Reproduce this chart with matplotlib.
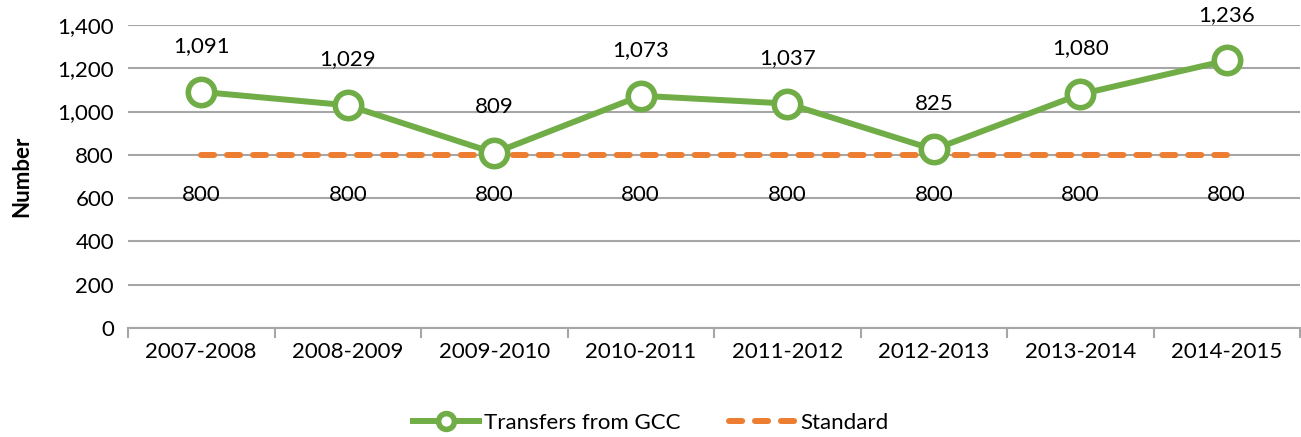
import matplotlib.pyplot as plt
import numpy as np

plt.rcParams['font.family'] = ['Lato', 'DejaVu Sans']

years = ['2007-2008', '2008-2009', '2009-2010', '2010-2011',
         '2011-2012', '2012-2013', '2013-2014', '2014-2015']
transfers = [1091, 1029, 809, 1073, 1037, 825, 1080, 1236]
standard = [800, 800, 800, 800, 800, 800, 800, 800]

green = '#70ad47'
orange = '#ed7d31'
grid_c = '#a6a6a6'
fs = 16

fig = plt.figure(figsize=(13.01, 4.37), dpi=100)
ax = fig.add_axes([128 / 1301, 1 - 328 / 437, (1300 - 128) / 1301, (328 - 25) / 437])

x = np.arange(len(years))
ax.plot(x, standard, color=orange, lw=4.3, ls=(0, (2.2, 2.15)), dash_capstyle='round',
        label='Standard', zorder=3)
ax.plot(x, transfers, color=green, lw=4.3, marker='o', ms=19, mfc='white', mec=green,
        mew=4, label='Transfers from GCC', zorder=4)

for xi, v in zip(x, transfers):
    ax.annotate(f'{v:,}', (xi, v), xytext=(0, 33), textcoords='offset points',
                ha='center', va='center', fontsize=fs)
for xi, v in zip(x, standard):
    ax.annotate(f'{v:,}', (xi, v), xytext=(0, -29), textcoords='offset points',
                ha='center', va='center', fontsize=fs)

ax.set_xlim(-0.5, 7.5)
ax.set_ylim(0, 1400)
ax.set_yticks(np.arange(0, 1401, 200))
ax.set_yticklabels([f'{v:,}' for v in range(0, 1401, 200)], fontsize=fs)
ax.yaxis.grid(True, color=grid_c, lw=1.5)
ax.set_axisbelow(True)
ax.tick_params(axis='y', length=0, pad=10)

ax.set_xticks(x)
ax.set_xticklabels(years, fontsize=fs)
ax.set_xticks(np.arange(-0.5, 8, 1), minor=True)
ax.tick_params(axis='x', which='major', length=0, pad=10)
ax.tick_params(axis='x', which='minor', length=7, width=1.5, color=grid_c)

for s in ['top', 'right', 'left']:
    ax.spines[s].set_visible(False)
ax.spines['bottom'].set_color(grid_c)
ax.spines['bottom'].set_linewidth(1.5)

ax.set_ylabel('Number', fontsize=fs, fontweight='bold', labelpad=18)

handles, labels = ax.get_legend_handles_labels()
fig.legend(handles[::-1], labels[::-1], loc='center', bbox_to_anchor=(0.5, 1 - 423 / 437),
           ncol=2, frameon=False, fontsize=fs, handlelength=3, handletextpad=0.2,
           columnspacing=2.2, markerscale=0.6)

fig.savefig('out.png', dpi=100)
